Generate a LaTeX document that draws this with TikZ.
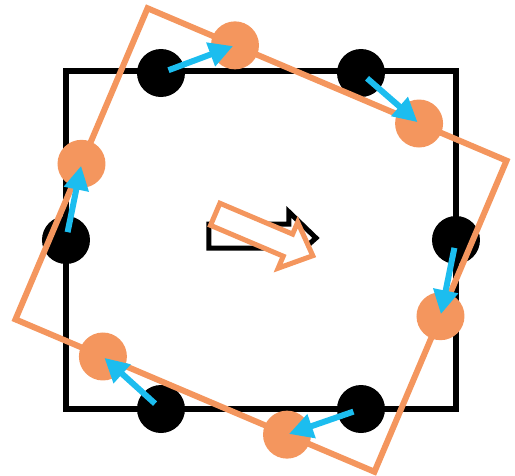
\documentclass[tikz,border=0pt]{standalone}
\usetikzlibrary{arrows.meta}
\definecolor{cOr}{HTML}{F4965E}
\definecolor{cSpin}{HTML}{1CBDEF}
\tikzset{
  frame/.style={line width=6pt, line join=miter},
  blackdot/.style={circle, fill=black, minimum size=48pt, inner sep=0pt},
  orangedot/.style={circle, fill=cOr, minimum size=48pt, inner sep=0pt},
  spin/.style={-{Triangle[length=24pt, width=24pt]}, line width=6pt, draw=cSpin,
    shorten <=8pt, shorten >=2pt},
  bigarrow/.style={line width=5pt, line join=miter, fill=white},
}

\begin{document}
\begin{tikzpicture}[x=1pt, y=1pt]
    \useasboundingbox (-261,-235) rectangle (254,240);
    % original square with its dots
    \draw[frame] (-195,-169) rectangle (195,169);
    \foreach \n/\x/\y in {1/-100/167, 2/100/167, 3/195/0, 4/100/-169, 5/-100/-169, 6/-195/0}
      \node[blackdot] (b\n) at (\x,\y) {};
    % direction arrows: black before, orange after turning
    \draw[bigarrow, draw=black] (-52,16) -- (28,16) -- (28,28) -- (55,2) -- (28,-22)
      -- (28,-8) -- (-52,-8) -- cycle;
    \begin{scope}[shift={(3,5)}, rotate=-23]
      \draw[bigarrow, draw=cOr] (-53,12) -- (26,12) -- (26,25) -- (53,0) -- (26,-25)
        -- (26,-12) -- (-53,-12) -- cycle;
    \end{scope}
    % turned square with its dots
    \begin{scope}[rotate=-23]
      \draw[frame, draw=cOr] (-195,-169) rectangle (195,169);
      \foreach \n/\x/\y in {1/-100/169, 2/100/169, 3/195/0, 4/100/-169, 5/-100/-169, 6/-195/0}
        \node[orangedot] (o\n) at (\x,\y) {};
    \end{scope}
    % displacements
    \foreach \n in {1,...,6}
      \draw[spin] (b\n.center) -- (o\n.center);
  \end{tikzpicture}
\end{document}
